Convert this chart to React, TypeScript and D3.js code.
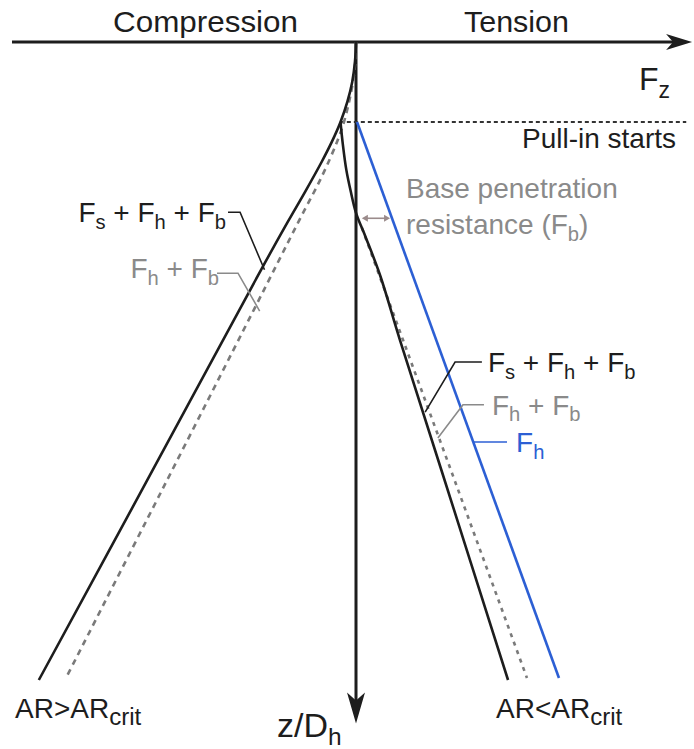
import React from "react";
import * as d3 from "d3";

// Fz on x (negative = compression, positive = tension), z/Dh on y, both normalised
type Pt = [number, number];

const W = 694;
const H = 749;

const fzExtent: Pt = [-10, 9.77];
const depthMax = 10.05;
const pullInDepth = 1.18;
const pullInSpan: Pt = [-0.47, 9.6];

const sideLabels = ["Compression", "Tension"];

// AR > AR_crit : keeps going in compression
const compTotal: Pt[] = [
  [0, 0], [-0.03, 0.29], [-0.11, 0.59], [-0.25, 0.88], [-0.45, 1.18], [-0.7, 1.47],
  [-1.0, 1.77], [-1.48, 2.21], [-1.98, 2.65], [-2.76, 3.36], [-5.99, 6.39], [-9.22, 9.41],
];
const compHB: Pt[] = [
  [0, 0], [-0.02, 0.29], [-0.09, 0.59], [-0.2, 0.88], [-0.35, 1.18], [-0.55, 1.47],
  [-0.99, 1.98], [-1.67, 2.65], [-2.97, 3.95], [-5.67, 6.64], [-8.42, 9.37],
];

// AR < AR_crit : pull-in, force swings to tension
const tensTotal: Pt[] = [
  [-0.45, 1.18], [-0.38, 1.52], [-0.28, 1.89], [-0.15, 2.21], [0, 2.52],
  [0.29, 2.89], [0.7, 3.44], [1.28, 4.4], [2.53, 6.39], [4.42, 9.41],
];
const tensHB: Pt[] = [[0.17, 2.74], [1.37, 4.4], [2.82, 6.4], [4.97, 9.38]];
const tensH: Pt[] = [[0.03, 1.18], [5.9, 9.38]];

const basePen = { depth: 2.6, from: 0.17, to: 0.99 };

// leader lines: label end -> elbow -> curve
const leadCompTotal: Pt[] = [[-3.72, 2.51], [-3.37, 2.51], [-2.66, 3.36]];
const leadCompHB: Pt[] = [[-4.04, 3.41], [-3.43, 3.41], [-2.8, 3.97]];
const leadTensTotal: Pt[] = [[3.66, 4.72], [2.88, 4.72], [2.01, 5.46]];
const leadTensHB: Pt[] = [[3.72, 5.35], [3.11, 5.35], [2.38, 5.84]];
const leadTensH: Pt[] = [[4.39, 5.9], [3.41, 5.9]];

const labelTotal: [string, string][] = [["F", "s"], [" + F", "h"], [" + F", "b"]];
const labelHB: [string, string][] = [["F", "h"], [" + F", "b"]];
const labelH: [string, string][] = [["F", "h"]];

const BLACK = "#1d1d1d";
const GREY = "#8a8a8a";
const DASH = "#7a7a7a";
const BLUE = "#2c5fd4";
const FONT = "'Liberation Sans', Arial, Helvetica, sans-serif";

const x = d3.scaleLinear().domain([-10, 10]).range([12, 700]);
const y = d3.scaleLinear().domain([0, 10]).range([42, 720]);

const curve = d3
  .line<Pt>()
  .x((d) => x(d[0]))
  .y((d) => y(d[1]))
  .curve(d3.curveCatmullRom.alpha(0.5));
const straight = d3
  .line<Pt>()
  .x((d) => x(d[0]))
  .y((d) => y(d[1]));

function SubText(props: {
  parts: [string, string][];
  x: number;
  y: number;
  size: number;
  fill: string;
  anchor?: string;
  subScale?: number;
}) {
  const { parts, size } = props;
  const sub = size * (props.subScale || 0.72);
  const shift = size * 0.24;
  const kids: React.ReactNode[] = [];
  parts.forEach((p, i) => {
    kids.push(
      <tspan key={"m" + i} dy={i === 0 ? 0 : -shift}>
        {p[0]}
      </tspan>
    );
    kids.push(
      <tspan key={"s" + i} fontSize={sub} dy={shift}>
        {p[1]}
      </tspan>
    );
  });
  return (
    <text
      x={props.x}
      y={props.y}
      fontSize={size}
      fill={props.fill}
      textAnchor={props.anchor || "start"}
      style={{ whiteSpace: "pre" }}
    >
      {kids}
    </text>
  );
}

export default function App() {
  const x0 = x(0);
  const y0 = y(0);
  const xEnd = x(fzExtent[1]);
  const yEnd = y(depthMax);
  const pullY = y(pullInDepth);
  const bpY = y(basePen.depth);
  const bpA = x(basePen.from);
  const bpB = x(basePen.to);

  return (
    <svg
      width={W}
      height={H}
      style={{ position: "absolute", left: 0, top: 0, background: "#fff" }}
      fontFamily={FONT}
    >
      {/* axes */}
      <line x1={x(fzExtent[0])} y1={y0} x2={xEnd - 14} y2={y0} stroke={BLACK} strokeWidth={3} />
      <path
        d={`M${xEnd},${y0} L${xEnd - 26},${y0 - 8} L${xEnd - 19},${y0} L${xEnd - 26},${y0 + 8} Z`}
        fill={BLACK}
      />
      <line x1={x0} y1={y0} x2={x0} y2={yEnd - 14} stroke={BLACK} strokeWidth={3} />
      <path
        d={`M${x0},${yEnd} L${x0 - 9},${yEnd - 31} L${x0},${yEnd - 23} L${x0 + 9},${yEnd - 31} Z`}
        fill={BLACK}
      />

      {/* pull-in line */}
      <line
        x1={x(pullInSpan[0])}
        y1={pullY}
        x2={x(pullInSpan[1])}
        y2={pullY}
        stroke="#333"
        strokeWidth={2}
        strokeDasharray="4 3"
      />

      {/* curves */}
      <path d={curve(compHB) || ""} fill="none" stroke={DASH} strokeWidth={2.6} strokeDasharray="6 5" />
      <path d={curve(compTotal) || ""} fill="none" stroke={BLACK} strokeWidth={2.6} />
      <path d={straight(tensHB) || ""} fill="none" stroke={DASH} strokeWidth={2.6} strokeDasharray="4 5" />
      <path d={curve(tensTotal) || ""} fill="none" stroke={BLACK} strokeWidth={2.6} />
      <path d={straight(tensH) || ""} fill="none" stroke={BLUE} strokeWidth={2.6} />

      {/* base penetration arrow */}
      <line x1={bpA + 4} y1={bpY} x2={bpB - 4} y2={bpY} stroke="#9b8b8b" strokeWidth={1.6} />
      <path d={`M${bpA},${bpY} l6,-3.5 l0,7 Z`} fill="#9b8b8b" />
      <path d={`M${bpB},${bpY} l-6,-3.5 l0,7 Z`} fill="#9b8b8b" />

      {/* leaders */}
      <path d={straight(leadCompTotal) || ""} fill="none" stroke={BLACK} strokeWidth={1.6} />
      <path d={straight(leadCompHB) || ""} fill="none" stroke={GREY} strokeWidth={1.6} />
      <path d={straight(leadTensTotal) || ""} fill="none" stroke={BLACK} strokeWidth={1.6} />
      <path d={straight(leadTensHB) || ""} fill="none" stroke={GREY} strokeWidth={1.6} />
      <path d={straight(leadTensH) || ""} fill="none" stroke={BLUE} strokeWidth={1.6} />

      {/* header labels */}
      <text x={113} y={32} fontSize={30} fill={BLACK} textLength={185} lengthAdjust="spacingAndGlyphs">
        {sideLabels[0]}
      </text>
      <text x={464} y={32} fontSize={30} fill={BLACK} textLength={105} lengthAdjust="spacingAndGlyphs">
        {sideLabels[1]}
      </text>
      <SubText parts={[["F", "z"]]} x={639} y={90} size={32} fill={BLACK} />
      <text x={676} y={148} fontSize={28} fill={BLACK} textAnchor="end">
        Pull-in starts
      </text>
      <text x={406} y={198} fontSize={28} fill={GREY}>
        Base penetration
      </text>
      <SubText parts={[["resistance (F", "b"], [")", ""]]} x={406} y={234} size={28} fill={GREY} />

      {/* curve labels */}
      <SubText parts={labelTotal} x={x(leadCompTotal[0][0]) - 2} y={y(leadCompTotal[0][1]) + 10} size={28} fill={BLACK} anchor="end" />
      <SubText parts={labelHB} x={x(leadCompHB[0][0]) + 2} y={y(leadCompHB[0][1]) + 5} size={28} fill={GREY} anchor="end" />
      <SubText parts={labelTotal} x={x(leadTensTotal[0][0]) + 6} y={y(leadTensTotal[0][1]) + 10} size={28} fill={BLACK} />
      <SubText parts={labelHB} x={x(leadTensHB[0][0]) + 8} y={y(leadTensHB[0][1]) + 10} size={28} fill={GREY} />
      <SubText parts={labelH} x={x(leadTensH[0][0]) + 9} y={y(leadTensH[0][1]) + 10} size={28} fill={BLUE} />

      {/* bottom labels */}
      <SubText parts={[["AR>AR", "crit"]]} x={15} y={718} size={28} fill={BLACK} subScale={0.86} />
      <SubText parts={[["AR<AR", "crit"]]} x={496} y={718} size={28} fill={BLACK} subScale={0.86} />
      <SubText parts={[["z/D", "h"]]} x={277} y={737} size={34} fill={BLACK} />
    </svg>
  );
}
